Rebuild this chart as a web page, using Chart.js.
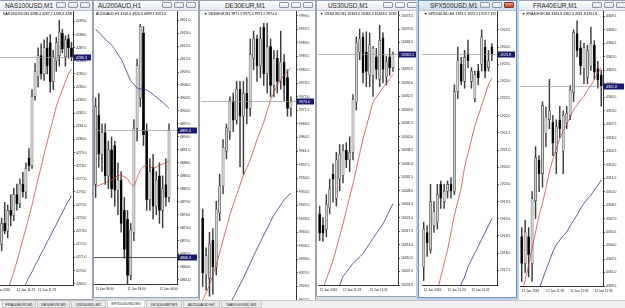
<!DOCTYPE html>
<html>
<head>
<meta charset="utf-8">
<title>MT4 charts</title>
<script src="https://cdn.jsdelivr.net/npm/chart.js@4.4.1/dist/chart.umd.min.js"></script>
<style>
  html, body { margin: 0; padding: 0; }
  body { width: 625px; height: 308px; overflow: hidden; position: relative; background: #d9dee6; font-family: "Liberation Sans", Arial, sans-serif; }
  .win { position: absolute; background: #fff; border: 1px solid #97a3b2; overflow: hidden; box-sizing: border-box; }
  .win.active { border-color: #6f8fb3; box-shadow: 0 0 0 2px #b9d2ec; z-index: 5; overflow: visible; }
  .cap { position: absolute; left: 0; right: 0; top: 0; height: 9px; background: linear-gradient(#fbfcfd, #e7ebf0); border-bottom: 1px solid #b7c0cb; z-index: 3; }
  .win.active .cap { background: linear-gradient(#e6f0fa, #cfe0f1); }
  .cap .t { position: absolute; top: 0; font-size: 6.4px; line-height: 9px; color: #1e1e1e; white-space: nowrap; }
  .btn { position: absolute; top: 1px; width: 10px; height: 6px; border: 1px solid #8a96a6; border-radius: 1px; background: linear-gradient(#fdfdfd, #dfe4ea); box-sizing: border-box; }
  .btn.red { background: linear-gradient(#eaa08f, #c6412d); border-color: #8a3020; }
  canvas { position: absolute; z-index: 1; }
  .info { position: absolute; font-size: 7px; line-height: 8px; transform: scale(0.5); transform-origin: 0 0; white-space: nowrap; overflow: hidden; color: #000; z-index: 2; }
  .tabs { position: absolute; left: 0; top: 300px; width: 1250px; height: 16px; transform: scale(0.5); transform-origin: 0 0; background: #f0f0f0; border-top: 1px solid #9c9c9c; z-index: 9; }
  .tab { position: absolute; top: 1px; height: 13px; border: 1px solid #a7a7a7; border-top: none; font-size: 8px; line-height: 13px; text-align: center; background: #e9e9e9; color: #222; box-sizing: border-box; }
  .tab.on { background: #fff; top: 0; height: 15px; }
</style>
</head>
<body>
<div class="tabs" id="tabs"></div>
<script>
Chart.defaults.font.family = '"Liberation Sans", Arial, sans-serif';

// candles are [open, high, low, close]

// NAS100USD,M1
const nasCandles = [
  [4271.0, 4272.2, 4270.3, 4271.8], [4271.8, 4272.5, 4270.8, 4271.2], [4271.2, 4272.8, 4270.6, 4272.4],
  [4272.0, 4274.0, 4271.5, 4273.6], [4273.6, 4275.2, 4272.8, 4273.0], [4273.0, 4275.0, 4272.5, 4274.6],
  [4274.6, 4275.8, 4273.4, 4274.2], [4274.2, 4276.3, 4273.8, 4275.8], [4275.8, 4276.6, 4274.6, 4275.1],
  [4275.1, 4277.0, 4274.8, 4276.6], [4276.6, 4277.5, 4275.6, 4276.0], [4276.0, 4278.2, 4275.5, 4277.8],
  [4278.6, 4279.3, 4277.6, 4278.0], [4278.0, 4283.8, 4277.8, 4283.3], [4283.3, 4285.8, 4283.0, 4285.2],
  [4284.8, 4287.0, 4284.0, 4286.4], [4286.4, 4287.3, 4284.6, 4285.0], [4285.0, 4287.6, 4284.5, 4287.0],
  [4287.0, 4287.8, 4285.0, 4285.6], [4287.4, 4288.0, 4283.6, 4284.4], [4284.4, 4286.8, 4283.8, 4286.3],
  [4286.0, 4287.8, 4285.2, 4287.4], [4286.4, 4289.1, 4285.6, 4288.2], [4288.1, 4288.4, 4286.6, 4286.9],
  [4286.3, 4287.9, 4285.6, 4287.6], [4287.7, 4288.0, 4286.2, 4287.0], [4287.0, 4287.4, 4286.0, 4286.3]
];
const nasRed = [4265.4, 4266.0, 4266.7, 4267.3, 4267.9, 4268.5, 4269.2, 4269.9, 4270.7, 4271.5, 4272.4, 4273.2, 4274.1, 4275.0,
  4276.0, 4277.0, 4277.9, 4278.9, 4279.8, 4280.7, 4281.6, 4282.5, 4283.2, 4283.8, 4284.4, 4285.0, 4285.4];
const nasBlue = [null, null, null, null, null, null, null, null, 4267.7, 4268.1, 4268.6, 4269.0, 4269.5, 4269.9,
  4270.4, 4270.8, 4271.3, 4271.7, 4272.2, 4272.6, 4273.1, 4273.5, 4274.0, 4274.4, 4274.9, 4275.3, 4275.7];
const nasTicks = [4289, 4288, 4287, 4286, 4285, 4284, 4283, 4282, 4281, 4280, 4279, 4278, 4277, 4276, 4275, 4274, 4273, 4272, 4271, 4270, 4269];
const nasTimes = ['12 Jan 2016', '12 Jan 11:23', '12 Jan 11:31'];
const nasTimeSlots = [0, 8, 15];
const nasLevels = [4286.3];

// AU200AUD,H1
const auCandles = [
  [4883, 4903, 4880, 4901], [4899, 4904, 4887, 4890], [4890, 4897, 4886, 4895], [4895, 4897, 4883, 4885],
  [4885, 4893, 4882, 4891], [4891, 4894, 4880, 4882], [4892, 4893, 4878, 4881.7], [4881.7, 4888, 4876, 4884],
  [4884, 4886, 4872, 4874], [4877, 4880, 4866, 4868], [4875, 4877, 4860, 4862], [4862, 4874, 4861, 4872.5],
  [4872, 4898, 4870, 4896], [4896, 4912, 4893, 4910.5], [4903, 4920, 4901, 4919.5], [4918, 4919.5, 4892, 4894.5],
  [4895.5, 4897, 4877, 4879.5], [4879.5, 4889, 4877, 4886], [4887, 4890, 4875, 4878], [4878, 4886, 4876, 4884],
  [4885, 4888, 4874, 4877], [4877, 4885, 4873, 4882], [4883, 4889, 4878, 4880], [4880, 4897, 4879, 4895.6]
];
const auRed = [4882.4, 4882.8, 4883.1, 4883.4, 4883.7, 4884.0, 4884.5, 4885.0, 4885.1, 4884.8, 4884.3, 4883.2,
  4882.6, 4884.6, 4886.2, 4887.2, 4887.4, 4887.1, 4886.8, 4887.0, 4887.5, 4887.7, 4888.0, 4888.3];
const auBlue = [4918.8, 4918.2, 4917.4, 4916.6, 4915.9, 4915.2, 4914.2, 4913.1, 4912.0, 4910.4, 4908.6, 4907.0,
  4906.2, 4905.3, 4905.1, 4905.0, 4904.8, 4904.4, 4903.8, 4903.2, 4902.6, 4902.0, 4901.3, 4900.6];
const auTicks = [4921, 4918, 4915, 4912, 4909, 4906, 4903, 4900, 4897, 4894, 4891, 4888, 4885, 4882, 4879, 4876, 4873, 4870, 4867, 4864, 4861];
const auTimes = ['11 Jan 08:00', '11 Jan 18:00', '12 Jan 04:00'];
const auTimeSlots = [0, 10, 20];
const auLevels = [4895.6, 4866.3];

// DE30EUR,M1
const deCandles = [
  [9943.7, 9946, 9926, 9929.5], [9929, 9936, 9925, 9934], [9928, 9940, 9923.5, 9937], [9938, 9941, 9924, 9931],
  [9931, 9948, 9929, 9946], [9945, 9955, 9943, 9952], [9952, 9964, 9950, 9962], [9961, 9968, 9959, 9967],
  [9966, 9975, 9964, 9974], [9974, 9976, 9966, 9969], [9969, 9979, 9968, 9977], [9977, 9979, 9957, 9970],
  [9970, 9979, 9955, 9976], [9976, 9980, 9968, 9972], [9972, 9990, 9970, 9986], [9985, 9992, 9982, 9990],
  [9990, 9991, 9979, 9983], [9983, 9993, 9980, 9990], [9993, 9994, 9978, 9981], [9981, 9994, 9976, 9988],
  [9988, 9990, 9975, 9978], [9978, 9987, 9975, 9985], [9985, 9987, 9976, 9979], [9979, 9992, 9977, 9984],
  [9984, 9986, 9974, 9978], [9980, 9982, 9970, 9972], [9972, 9975, 9970, 9974]
];
const deRed = [9922.5, 9924.4, 9926.4, 9929.0, 9931.6, 9934.8, 9938.0, 9941.2, 9944.5, 9947.1, 9949.7, 9952.2, 9954.8, 9956.7,
  9958.7, 9961.3, 9963.9, 9966.2, 9968.5, 9971.3, 9974.2, 9976.1, 9978.1, 9979.4, 9980.7, 9981.6, 9982.5];
const deBlue = [null, null, null, null, null, null, null, null, 9921.4, 9923.1, 9924.8, 9926.5, 9928.2, 9930.1,
  9932.0, 9933.9, 9935.7, 9937.5, 9939.3, 9941.0, 9942.8, 9944.5, 9945.8, 9947.1, 9948.4, 9949.3, 9950.2];
const deTicks = [9996, 9992.5, 9989, 9985.5, 9982, 9978.5, 9975, 9971.5, 9968, 9964.5, 9961, 9957.5, 9954, 9950.5,
  9947, 9943.5, 9940, 9936.5, 9933, 9929.5, 9926, 9922.5];
const deTimes = ['12 Jan 2016', '12 Jan 11:22', '12 Jan 11:30'];
const deTimeSlots = [0, 9, 18];
const deLevels = [9974.0];

// US30USD,M1
const usCandles = [
  [16322, 16324, 16315, 16317], [16319, 16321, 16314.8, 16317], [16318, 16327, 16316, 16324.5],
  [16323.5, 16331, 16322, 16328.5], [16332.3, 16335, 16325, 16331], [16326, 16338, 16324, 16336],
  [16331, 16340, 16328, 16337.5], [16332, 16340, 16330, 16338.5], [16338.5, 16340.5, 16334, 16336],
  [16336, 16342, 16333, 16338], [16338, 16353, 16336, 16351.7], [16351, 16368, 16349, 16366.4],
  [16364, 16370, 16362, 16367.5], [16368, 16369, 16356, 16358.7], [16364, 16369.3, 16355, 16359],
  [16358, 16369, 16355, 16366], [16358, 16365.5, 16352.5, 16365], [16362.8, 16365, 16357, 16359.5],
  [16357, 16371, 16355, 16367], [16367.7, 16369, 16356, 16359.5], [16357.6, 16363, 16355.5, 16361.5],
  [16362.8, 16365, 16358, 16360], [16360, 16364, 16359, 16363.5]
];
const usRed = [16301.3, 16302.6, 16305.0, 16307.4, 16309.9, 16313.0, 16316.2, 16319.4, 16322.9, 16326.4, 16329.8, 16333.7,
  16337.6, 16341.4, 16344.6, 16347.8, 16351.0, 16352.3, 16353.5, 16354.8, 16355.9, 16357.1, 16358.2];
const usBlue = [null, null, null, null, null, 16302.5, 16303.4, 16305.7, 16306.8, 16308.0, 16309.1, 16310.0,
  16310.8, 16311.7, 16313.0, 16314.3, 16315.6, 16316.9, 16318.1, 16319.4, 16321.1, 16322.9, 16324.6];
const usTicks = [16373.5, 16370, 16366.5, 16363, 16359.5, 16356, 16352.5, 16349, 16345.5, 16342, 16338.5, 16335,
  16331.5, 16328, 16324.5, 16321, 16317.5, 16314, 16310.5, 16307, 16303.5];
const usTimes = ['12 Jan 2016', '12 Jan 11:23', '12 Jan 11:31'];
const usTimeSlots = [0, 7, 15];
const usLevels = [16363.5];

// SPX500USD,M1
const spxCandles = [
  [1917.6, 1918.9, 1917.2, 1918.7], [1918.6, 1918.8, 1917.9, 1918.3], [1918.1, 1920.0, 1918.0, 1919.5],
  [1918.8, 1919.5, 1918.6, 1919.2], [1918.9, 1920.0, 1918.7, 1919.7], [1920.0, 1920.1, 1919.3, 1919.6],
  [1919.5, 1920.0, 1919.3, 1919.8], [1919.8, 1920.1, 1919.6, 1920.0], [1920.0, 1920.2, 1919.6, 1919.8],
  [1919.8, 1922.9, 1919.7, 1922.7], [1922.7, 1924.0, 1922.5, 1923.6], [1923.5, 1923.7, 1922.9, 1923.0],
  [1923.0, 1923.9, 1922.8, 1923.7], [1923.8, 1924.2, 1923.4, 1923.6], [1923.0, 1923.4, 1922.8, 1923.3],
  [1922.5, 1923.3, 1922.4, 1923.2], [1923.3, 1923.5, 1922.9, 1923.1], [1923.5, 1924.5, 1923.3, 1924.3],
  [1924.0, 1924.2, 1923.1, 1923.3], [1923.4, 1923.9, 1923.3, 1923.6], [1924.0, 1924.1, 1923.6, 1923.8]
];
const spxRed = [1915.5, 1915.9, 1916.3, 1916.6, 1916.9, 1917.3, 1917.7, 1918.1, 1918.6, 1919.1, 1919.5,
  1919.9, 1920.5, 1920.9, 1921.3, 1921.7, 1922.0, 1922.3, 1922.6, 1922.9, 1923.1];
const spxBlue = [null, null, null, null, null, null, null, null, null, null, 1916.8,
  1917.1, 1917.3, 1917.6, 1917.8, 1918.0, 1918.2, 1918.4, 1918.6, 1918.8, 1919.0];
const spxTicks = [1924.5, 1924.0, 1923.5, 1923.0, 1922.5, 1922.0, 1921.5, 1921.0, 1920.5, 1920.0, 1919.5, 1919.0, 1918.5, 1918.0, 1917.5];
const spxTimes = ['12 Jan 2016', '12 Jan 11:24', '12 Jan 11:32'];
const spxTimeSlots = [0, 7, 14];
const spxLevels = [1923.8];

// FRA40EUR,M1
const fraCandles = [
  [4345, 4346, 4340, 4342], [4342, 4346.8, 4341, 4345.5], [4345, 4346, 4340.5, 4343], [4342, 4350, 4340, 4349.2],
  [4349, 4355, 4347, 4353.8], [4353.5, 4354, 4350, 4352], [4352, 4360, 4350.5, 4359.6], [4356.5, 4359.4, 4355, 4358.3],
  [4358, 4362.5, 4357, 4359], [4357.7, 4358.5, 4354, 4355.4], [4354.4, 4358, 4352, 4357.2], [4358, 4359.5, 4356, 4357],
  [4354.5, 4359, 4352, 4358.5], [4357.6, 4359.5, 4357, 4358.7], [4358.5, 4361.8, 4358, 4361.3], [4361, 4368, 4360, 4367.7],
  [4367.6, 4369, 4365, 4365.7], [4366, 4366.8, 4363, 4364], [4363.7, 4366.5, 4362, 4366], [4362.7, 4366.3, 4362, 4365.7],
  [4364, 4368.3, 4363.5, 4366.5], [4366.3, 4366.8, 4362.5, 4363.3], [4363.7, 4364.5, 4361.5, 4362.4], [4363, 4363.5, 4359.5, 4361.8]
];
const fraRed = [4338.4, 4340.2, 4341.8, 4343.7, 4345.5, 4347.3, 4348.7, 4350.4, 4352.2, 4353.6, 4354.8, 4355.9,
  4356.8, 4357.5, 4358.3, 4359.1, 4359.6, 4360.2, 4360.6, 4361.3, 4361.8, 4362.5, 4363.2, 4363.8];
const fraBlue = [null, null, null, null, 4338.2, 4339.2, 4340.2, 4341.3, 4342.3, 4343.3, 4344.1, 4344.6,
  4345.1, 4345.5, 4346.2, 4346.8, 4347.4, 4348.1, 4348.7, 4349.2, 4349.6, 4350.2, 4350.7, 4351.3];
const fraTicks = [4369.5, 4368, 4366.5, 4365, 4363.5, 4362, 4360.5, 4359, 4357.5, 4356, 4354.5, 4353, 4351.5,
  4350, 4348.5, 4347, 4345.5, 4344, 4342.5, 4341, 4339.5];
const fraTimes = ['12 Jan 2016', '12 Jan 11:18', '12 Jan 11:26', '12 Jan 11:34'];
const fraTimeSlots = [0, 7, 14, 21];
const fraLevels = [4361.8];

const tabNames = ['FRA40EUR,M1', 'DE30EUR,M1', 'US30USD,M1', 'SPX500USD,M1', 'UK100GBP,M1', 'AU200AUD,H1', 'NAS100USD,M1'];

// window frame [left, top, width, height], chart origin [left, top] in page pixels
const panels = [
  { title: 'NAS100USD,M1', titleX: 5, info: 'NAS100USD,M1  4288.4 4287.7 4288.4 4286.3',
    candles: nasCandles, red: nasRed, blue: nasBlue, ticks: nasTicks, times: nasTimes, timeSlots: nasTimeSlots, levels: nasLevels,
    min: 4268.9, max: 4289.8, slots: 27, win: [-4, 0, 97, 300], at: [-9, 11], plotW: 82, plotH: 274, axisW: 19, infoX: 3 },
  { title: 'AU200AUD,H1', titleX: 98, info: 'AU200AUD,H1  4920.0 4920.0 4899.7 4921.0',
    candles: auCandles, red: auRed, blue: auBlue, ticks: auTicks, times: auTimes, timeSlots: auTimeSlots, levels: auLevels,
    min: 4860.0, max: 4923.1, slots: 26, win: [93, 0, 106, 298], at: [94, 11], plotW: 83, plotH: 273, axisW: 21, infoX: 96 },
  { title: 'DE30EUR,M1', titleX: 225, info: '\u25BC DE30EUR,M1  9971.5 9971.5 9971.5 9974.0',
    candles: deCandles, red: deRed, blue: deBlue, ticks: deTicks, times: deTimes, timeSlots: deTimeSlots, levels: deLevels,
    min: 9922.0, max: 9997.2, slots: 28, win: [199, 0, 117, 301], at: [201, 11], plotW: 95, plotH: 291, axisW: 19, infoX: 204 },
  { title: 'US30USD,M1', titleX: 328, info: '\u25BC US30USD,M1  16363.0 16363.0 16363.0 16363.5',
    candles: usCandles, red: usRed, blue: usBlue, ticks: usTicks, times: usTimes, timeSlots: usTimeSlots, levels: usLevels,
    min: 16303.5, max: 16374.7, slots: 24, win: [316, 0, 104, 297], at: [318, 11], plotW: 80, plotH: 274, axisW: 19, infoX: 320 },
  { title: 'SPX500USD,M1', titleX: 430, info: '\u25BC SPX500USD,M1  1923.5 1923.5 1923.7 1923.8', active: true,
    candles: spxCandles, red: spxRed, blue: spxBlue, ticks: spxTicks, times: spxTimes, timeSlots: spxTimeSlots, levels: spxLevels,
    min: 1917.07, max: 1925.05, slots: 22, win: [418, 0, 99, 298], at: [422, 11], plotW: 75, plotH: 274, axisW: 19, infoX: 424 },
  { title: 'FRA40EUR,M1', titleX: 533, info: '\u25BC FRA40EUR,M1  4361.8 4362.3 4361.8 4361.8',
    candles: fraCandles, red: fraRed, blue: fraBlue, ticks: fraTicks, times: fraTimes, timeSlots: fraTimeSlots, levels: fraLevels,
    min: 4339.5, max: 4370.1, slots: 24, win: [517, 0, 112, 301], at: [520, 11], plotW: 83, plotH: 275, axisW: 22, infoX: 522 }
];

// current price line + dark box on the price axis
const levelPlugin = {
  id: 'levels',
  afterDraw(chart, args, opts) {
    const { ctx, chartArea: a } = chart;
    const y = chart.scales.y;
    (opts.items || []).forEach((v, i) => {
      const py = Math.round(y.getPixelForValue(v)) + 0.5;
      ctx.save();
      ctx.strokeStyle = i === 0 ? '#9a9a9a' : '#111';
      ctx.lineWidth = 0.7;
      ctx.beginPath();
      ctx.moveTo(a.left, py);
      ctx.lineTo(a.right, py);
      ctx.stroke();
      ctx.fillStyle = '#191a6c';
      ctx.fillRect(a.right + 1, py - 3, chart.width - a.right - 2, 6);
      ctx.fillStyle = '#fff';
      ctx.font = '3.6px "Liberation Sans", Arial';
      ctx.textBaseline = 'middle';
      ctx.fillText(v.toFixed(1), a.right + 3, py + 0.2);
      ctx.restore();
    });
  }
};

function timeLabels(p) {
  const labels = new Array(p.slots).fill('');
  p.timeSlots.forEach((s, i) => { labels[s] = p.times[i]; });
  return labels;
}

function makeWindow(p) {
  const [wl, wt, ww, wh] = p.win;
  const win = document.createElement('div');
  win.className = 'win' + (p.active ? ' active' : '');
  win.style.cssText = `left:${wl}px;top:${wt}px;width:${ww}px;height:${wh}px;`;
  const box = document.createElement('div');
  box.style.cssText = 'position:absolute;inset:0;overflow:hidden;';
  win.appendChild(box);

  const cap = document.createElement('div');
  cap.className = 'cap';
  cap.innerHTML = `<span class="t" style="left:${p.titleX - wl - 1}px">${p.title}</span>`;
  [37, 25, 13].forEach((off, i) => {
    const b = document.createElement('div');
    b.className = 'btn' + (i === 2 && p.active ? ' red' : '');
    b.style.left = (ww - off - 1) + 'px';
    cap.appendChild(b);
  });
  box.appendChild(cap);

  const info = document.createElement('div');
  info.className = 'info';
  info.textContent = p.info;
  info.style.left = (p.infoX - wl - 1) + 'px';
  info.style.top = (12 - wt - 1) + 'px';
  info.style.width = ((p.at[0] + p.plotW - p.infoX - 1) * 2) + 'px';
  box.appendChild(info);

  const canvas = document.createElement('canvas');
  canvas.width = p.plotW + p.axisW;
  canvas.height = p.plotH + 10;
  canvas.style.left = (p.at[0] - wl - 1) + 'px';
  canvas.style.top = (p.at[1] - wt - 1) + 'px';
  box.appendChild(canvas);
  document.body.appendChild(win);
  return canvas;
}

function drawPanel(p) {
  const canvas = makeWindow(p);
  const up = p.candles.map(c => c[3] >= c[0]);
  new Chart(canvas, {
    type: 'bar',
    data: {
      labels: timeLabels(p),
      datasets: [
        { type: 'line', data: p.red, borderColor: '#c8463c', borderWidth: 0.8, pointRadius: 0, tension: 0.2, order: 0 },
        { type: 'line', data: p.blue, borderColor: '#2a2d80', borderWidth: 0.8, pointRadius: 0, tension: 0.2, order: 0 },
        { data: p.candles.map(c => [c[0], c[3]]), backgroundColor: up.map(u => u ? '#d2d2d2' : '#000'),
          borderColor: '#2a2a2a', borderWidth: 0.5, borderSkipped: false, barThickness: 2.2, minBarLength: 0.8,
          grouped: false, order: 1 },
        { data: p.candles.map(c => [c[2], c[1]]), backgroundColor: '#3c3c3c', barThickness: 0.8,
          grouped: false, order: 2 }
      ]
    },
    options: {
      responsive: false,
      animation: false,
      devicePixelRatio: 1,
      layout: { padding: 0 },
      plugins: { legend: { display: false }, tooltip: { enabled: false }, levels: { items: p.levels } },
      scales: {
        x: {
          offset: true,
          grid: { display: false, drawTicks: false },
          border: { display: true, color: '#000', width: 0.8 },
          ticks: { autoSkip: false, maxRotation: 0, minRotation: 0, align: 'start', padding: 3, color: '#222', font: { size: 3.2 } },
          afterFit: a => { a.height = 10; a.paddingLeft = 0; a.paddingRight = 0; }
        },
        y: {
          position: 'right',
          min: p.min,
          max: p.max,
          afterBuildTicks: a => { a.ticks = p.ticks.map(v => ({ value: v })); },
          grid: { drawOnChartArea: false, tickLength: 2, color: '#000', lineWidth: 0.6 },
          border: { color: '#000', width: 0.8 },
          ticks: { padding: 1, color: '#222', font: { size: 3.4 }, callback: v => Number(v).toFixed(1) },
          afterFit: a => { a.width = p.axisW; a.paddingTop = 0; a.paddingBottom = 0; }
        }
      }
    },
    plugins: [levelPlugin]
  });
}

panels.forEach(drawPanel);

// tab strip at the bottom (drawn at 2x, scaled down)
const tabEdges = [[2, 36], [37, 70], [71, 106], [107, 145], [146, 182], [183, 220], [221, 262]];
const tabs = document.getElementById('tabs');
tabNames.forEach((name, i) => {
  const t = document.createElement('div');
  t.className = 'tab' + (name === 'SPX500USD,M1' ? ' on' : '');
  t.style.left = (tabEdges[i][0] * 2) + 'px';
  t.style.width = ((tabEdges[i][1] - tabEdges[i][0]) * 2) + 'px';
  t.textContent = name;
  tabs.appendChild(t);
});
</script>
</body>
</html>
